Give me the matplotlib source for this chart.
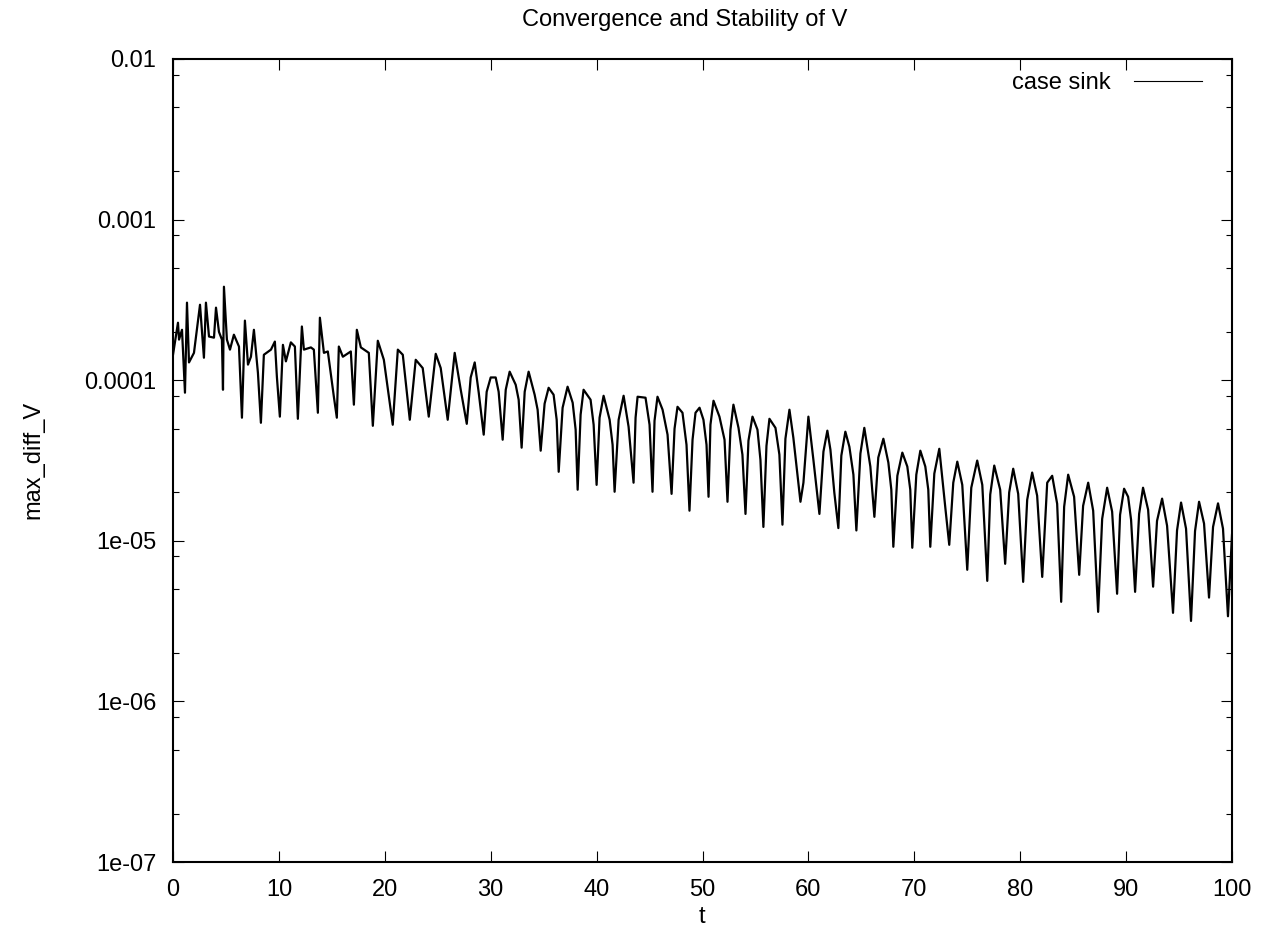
#!/usr/bin/python

# Convergence and Stability of V -- max_diff_V vs t on a log scale,
# redrawn in the look of the gnuplot original.

import numpy as np
import matplotlib
matplotlib.use('Agg')
import matplotlib.pyplot as plt
from matplotlib.lines import Line2D
from matplotlib.ticker import FixedLocator, NullFormatter

# ===========================================
### Data.

t = [0.00, 0.47, 0.57, 0.85, 1.13, 1.32, 1.51, 1.98, 2.55, 2.92,
     3.11, 3.40, 3.87, 4.06, 4.34, 4.62, 4.72, 4.81, 5.09, 5.38,
     5.75, 6.23, 6.51, 6.79, 7.08, 7.36, 7.64, 8.02, 8.30, 8.58,
     9.25, 9.62, 9.81, 10.09, 10.38, 10.66, 11.13, 11.51, 11.79, 12.17,
     12.36, 13.02, 13.30, 13.68, 13.87, 14.25, 14.62, 15.19, 15.47, 15.66,
     16.04, 16.79, 17.08, 17.36, 17.74, 18.49, 18.87, 19.34, 19.91, 20.75,
     21.23, 21.70, 22.36, 22.92, 23.58, 24.15, 24.81, 25.28, 25.94, 26.60,
     27.17, 27.74, 28.11, 28.49, 28.87, 29.34, 29.62, 30.00, 30.47, 30.75,
     31.13, 31.42, 31.79, 32.36, 32.64, 32.92, 33.21, 33.58, 34.15, 34.43,
     34.72, 35.09, 35.47, 35.94, 36.23, 36.42, 36.79, 37.26, 37.74, 38.02,
     38.21, 38.49, 38.77, 39.43, 39.72, 40.00, 40.28, 40.66, 41.23, 41.51,
     41.70, 42.08, 42.55, 43.02, 43.49, 43.68, 43.87, 44.62, 45.00, 45.28,
     45.47, 45.75, 46.23, 46.70, 47.08, 47.36, 47.64, 48.11, 48.49, 48.77,
     49.06, 49.34, 49.72, 50.09, 50.38, 50.57, 50.75, 51.04, 51.60, 52.08,
     52.36, 52.64, 52.92, 53.40, 53.77, 54.06, 54.34, 54.72, 55.19, 55.47,
     55.75, 56.04, 56.32, 56.89, 57.26, 57.55, 57.83, 58.21, 58.58, 59.25,
     59.53, 60.00, 60.47, 61.04, 61.42, 61.79, 62.08, 62.45, 62.83, 63.11,
     63.49, 63.87, 64.25, 64.53, 64.91, 65.28, 65.85, 66.23, 66.60, 67.08,
     67.55, 67.83, 68.02, 68.40, 68.87, 69.34, 69.62, 69.81, 70.19, 70.57,
     71.04, 71.32, 71.51, 71.89, 72.36, 72.92, 73.30, 73.68, 74.06, 74.53,
     75.00, 75.38, 75.94, 76.42, 76.89, 77.17, 77.55, 78.11, 78.58, 78.96,
     79.34, 79.81, 80.28, 80.66, 81.13, 81.60, 82.08, 82.55, 83.02, 83.49,
     83.87, 84.15, 84.53, 85.09, 85.57, 85.94, 86.42, 86.89, 87.36, 87.74,
     88.21, 88.68, 89.15, 89.43, 89.81, 90.19, 90.47, 90.85, 91.23, 91.60,
     92.08, 92.55, 92.92, 93.40, 93.87, 94.43, 94.81, 95.19, 95.66, 96.13,
     96.51, 96.89, 97.36, 97.83, 98.21, 98.68, 99.15, 99.62, 100.00]

max_diff_V = [
    1.44e-4, 2.28e-4, 1.79e-4, 2.06e-4, 8.36e-5, 3.04e-4, 1.29e-4, 1.48e-4, 2.95e-4, 1.38e-4,
    3.04e-4, 1.87e-4, 1.84e-4, 2.83e-4, 2.00e-4, 1.79e-4, 8.72e-5, 3.82e-4, 1.79e-4, 1.55e-4,
    1.92e-4, 1.62e-4, 5.84e-5, 2.35e-4, 1.25e-4, 1.40e-4, 2.06e-4, 1.11e-4, 5.43e-5, 1.44e-4,
    1.55e-4, 1.74e-4, 1.05e-4, 5.93e-5, 1.66e-4, 1.31e-4, 1.72e-4, 1.62e-4, 5.75e-5, 2.16e-4,
    1.55e-4, 1.60e-4, 1.55e-4, 6.27e-5, 2.45e-4, 1.48e-4, 1.51e-4, 7.89e-5, 5.84e-5, 1.62e-4,
    1.40e-4, 1.51e-4, 7.04e-5, 2.06e-4, 1.60e-4, 1.48e-4, 5.20e-5, 1.76e-4, 1.34e-4, 5.28e-5,
    1.55e-4, 1.44e-4, 5.67e-5, 1.34e-4, 1.19e-4, 5.93e-5, 1.46e-4, 1.19e-4, 5.67e-5, 1.48e-4,
    8.72e-5, 5.35e-5, 1.04e-4, 1.29e-4, 8.36e-5, 4.58e-5, 8.47e-5, 1.04e-4, 1.04e-4, 8.47e-5,
    4.26e-5, 8.72e-5, 1.13e-4, 9.37e-5, 7.56e-5, 3.80e-5, 8.47e-5, 1.13e-4, 8.12e-5, 6.55e-5,
    3.64e-5, 7.14e-5, 8.97e-5, 8.12e-5, 5.67e-5, 2.69e-5, 6.74e-5, 9.11e-5, 7.24e-5, 4.92e-5,
    2.08e-5, 6.10e-5, 8.72e-5, 7.56e-5, 5.28e-5, 2.23e-5, 5.84e-5, 8.00e-5, 5.67e-5, 3.96e-5,
    2.02e-5, 5.67e-5, 8.00e-5, 5.13e-5, 2.30e-5, 5.84e-5, 7.89e-5, 7.78e-5, 5.28e-5, 2.02e-5,
    5.59e-5, 7.89e-5, 6.55e-5, 4.58e-5, 1.96e-5, 4.99e-5, 6.83e-5, 6.27e-5, 3.96e-5, 1.54e-5,
    4.26e-5, 6.27e-5, 6.74e-5, 5.67e-5, 3.96e-5, 1.88e-5, 5.28e-5, 7.45e-5, 5.93e-5, 4.26e-5,
    1.75e-5, 4.92e-5, 7.04e-5, 5.05e-5, 3.44e-5, 1.47e-5, 4.20e-5, 5.93e-5, 4.92e-5, 3.20e-5,
    1.22e-5, 3.90e-5, 5.75e-5, 5.05e-5, 3.44e-5, 1.26e-5, 4.32e-5, 6.55e-5, 4.38e-5, 1.75e-5,
    2.30e-5, 5.93e-5, 3.20e-5, 1.47e-5, 3.59e-5, 4.85e-5, 3.69e-5, 1.99e-5, 1.20e-5, 3.39e-5,
    4.78e-5, 3.85e-5, 2.58e-5, 1.16e-5, 3.49e-5, 5.05e-5, 2.90e-5, 1.41e-5, 3.30e-5, 4.32e-5,
    3.07e-5, 2.08e-5, 9.18e-6, 2.54e-5, 3.54e-5, 2.90e-5, 2.08e-5, 9.05e-6, 2.58e-5, 3.64e-5,
    2.90e-5, 2.08e-5, 9.18e-6, 2.62e-5, 3.74e-5, 1.63e-5, 9.44e-6, 2.30e-5, 3.11e-5, 2.23e-5,
    6.60e-6, 2.14e-5, 3.16e-5, 2.23e-5, 5.63e-6, 1.94e-5, 2.94e-5, 2.08e-5, 7.19e-6, 2.00e-5,
    2.81e-5, 1.96e-5, 5.55e-6, 1.80e-5, 2.66e-5, 1.91e-5, 5.96e-6, 2.30e-5, 2.54e-5, 1.70e-5,
    4.17e-6, 1.63e-5, 2.58e-5, 1.88e-5, 6.14e-6, 1.65e-5, 2.30e-5, 1.54e-5, 3.61e-6, 1.37e-5,
    2.14e-5, 1.52e-5, 4.68e-6, 1.45e-5, 2.11e-5, 1.88e-5, 1.35e-5, 4.81e-6, 1.47e-5, 2.14e-5,
    1.56e-5, 5.18e-6, 1.33e-5, 1.83e-5, 1.24e-5, 3.56e-6, 1.16e-5, 1.73e-5, 1.19e-5, 3.17e-6,
    1.15e-5, 1.75e-5, 1.28e-5, 4.43e-6, 1.22e-5, 1.71e-5, 1.19e-5, 3.39e-6, 1.09e-5]

xticks = [0, 10, 20, 30, 40, 50, 60, 70, 80, 90, 100]
yticks = [1e-7, 1e-6, 1e-5, 1e-4, 1e-3, 1e-2]
ytick_labels = ['1e-07', '1e-06', '1e-05', '0.0001', '0.001', '0.01']

# ===========================================

plt.rcParams['font.family'] = ['Liberation Sans', 'DejaVu Sans']
fSize = 17

fig = plt.figure(figsize=(12.81, 9.47), dpi=100)
ax1 = fig.add_axes([173/1281., 1-862/947., (1232-173)/1281., (862-59)/947.])

### Plot the data.
ax1.plot(t, max_diff_V, color='black', lw=1.6, solid_joinstyle='round')

### Axes, gnuplot style.
ax1.set_yscale('log')
ax1.set_xlim(0, 100)
ax1.set_ylim(1e-7, 1e-2)
ax1.set_xticks(xticks)
ax1.set_xticklabels([str(x) for x in xticks])
ax1.set_yticks(yticks)
ax1.set_yticklabels(ytick_labels)
minor = [m*10.0**e for e in range(-7, -2) for m in (2, 5, 8)]
ax1.yaxis.set_minor_locator(FixedLocator(minor))
ax1.yaxis.set_minor_formatter(NullFormatter())
ax1.tick_params(which='major', direction='in', length=8, width=0.8,
                top=True, right=True, labelsize=fSize)
ax1.tick_params(which='minor', direction='in', length=4, width=0.8,
                top=False, right=True)
ax1.tick_params(axis='x', which='major', pad=12)
ax1.tick_params(axis='y', which='major', pad=12)
for s in ax1.spines.values():
    s.set_linewidth(1.5)

### Key: label then line sample, as gnuplot does it.
handle = Line2D([], [], color='black', lw=0.8)
ax1.legend([handle], ['case sink'], loc='center right', markerfirst=False,
           frameon=False, fontsize=fSize, handlelength=2.9, handletextpad=1.0,
           borderpad=0, borderaxespad=0, bbox_to_anchor=(0.972, 0.970))

### Label the figure.
fig.text(685/1281., 1-20/947., 'Convergence and Stability of V', fontsize=fSize,
         ha='center', va='center')
fig.text(702/1281., 1-917/947., 't', fontsize=fSize, ha='center', va='center')
fig.text(33/1281., 1-460/947., 'max_diff_V', fontsize=fSize, rotation=90,
         ha='center', va='center')

plt.savefig('out.png', dpi=100)
